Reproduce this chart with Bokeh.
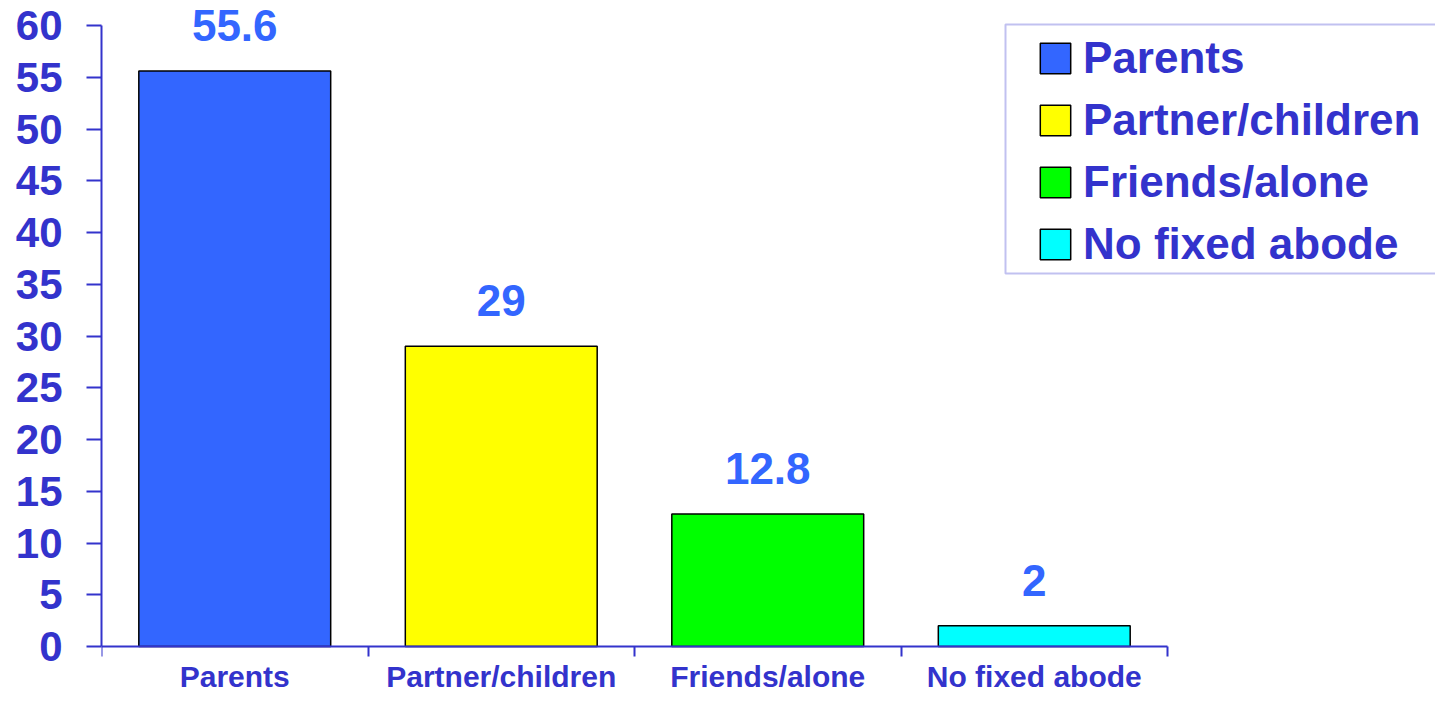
from bokeh.plotting import figure
from bokeh.models import (ColumnDataSource, LabelSet, Legend, LegendItem,
                          FixedTicker, Range1d, BoxAnnotation)
from bokeh.core.properties import value
from bokeh.embed import file_html
from bokeh.resources import INLINE

categories = ["Parents", "Partner/children", "Friends/alone", "No fixed abode"]
values = [55.6, 29, 12.8, 2]
value_labels = ["55.6", "29", "12.8", "2"]
colors = ["#3366ff", "#ffff00", "#00ff00", "#00ffff"]
y_ticks = [0, 5, 10, 15, 20, 25, 30, 35, 40, 45, 50, 55, 60]
y_max = 60

FONT = "Liberation Sans"
AXIS_COLOR = "#3333cc"

# layout (pixels)
W, H = 1435, 691
LEFT = 101          # y axis position
AXIS_Y = 646        # pixel row of value 0
TOP_Y = 25          # pixel row of value 60
CAT_W = 266.5       # pixel width of one category slot

n = len(categories)
px_per_unit = (AXIS_Y - TOP_Y) / y_max
y_start = -(H - AXIS_Y) / px_per_unit
y_end = y_max + TOP_Y / px_per_unit
x_end = (W - LEFT) / CAT_W


def px_to_x(px):
    return (px - LEFT) / CAT_W


def px_to_y(py):
    return (AXIS_Y - py) / px_per_unit


xs = [i + 0.5 for i in range(n)]
src = ColumnDataSource(dict(x=xs, value=values, cat=categories,
                            color=colors, label=value_labels))

p = figure(width=W, height=H, output_backend="svg", toolbar_location=None,
           x_range=Range1d(0, x_end), y_range=Range1d(y_start, y_end),
           min_border_left=LEFT, min_border_right=0, min_border_top=0,
           min_border_bottom=0)
p.outline_line_color = None
p.xgrid.visible = False
p.ygrid.visible = False

r = p.vbar(x="x", top="value", bottom=0, width=0.72, fill_color="color",
           line_color="black", line_width=1.5, source=src)

# value labels
labels = LabelSet(x="x", y="value", text="label", source=src,
                  text_align="center", text_baseline="bottom", y_offset=30,
                  text_font=value(FONT), text_font_style="bold",
                  text_font_size="44px", text_color="#3366ff")
p.add_layout(labels)

# x axis at value 0: labels at centres, ticks at category boundaries
xa = p.xaxis[0]
xa.fixed_location = 0
xa.bounds = (0, n)
xa.ticker = FixedTicker(ticks=xs, minor_ticks=list(range(n + 1)))
xa.major_label_overrides = {x: c for x, c in zip(xs, categories)}
xa.major_tick_in = 0
xa.major_tick_out = 0
xa.minor_tick_in = 0
xa.minor_tick_out = 10
xa.minor_tick_line_color = AXIS_COLOR
xa.minor_tick_line_width = 2
xa.axis_line_color = AXIS_COLOR
xa.axis_line_width = 2
xa.major_label_standoff = 3
xa.major_label_text_font = FONT
xa.major_label_text_font_style = "bold"
xa.major_label_text_font_size = "30px"
xa.major_label_text_color = AXIS_COLOR

ya = p.yaxis[0]
ya.bounds = (0, y_max)
ya.ticker = FixedTicker(ticks=y_ticks)
ya.major_tick_in = 0
ya.major_tick_out = 15
ya.major_tick_line_color = AXIS_COLOR
ya.major_tick_line_width = 2
ya.minor_tick_line_color = None
ya.axis_line_color = AXIS_COLOR
ya.axis_line_width = 2
ya.major_label_standoff = 24
ya.major_label_text_font = FONT
ya.major_label_text_font_style = "bold"
ya.major_label_text_font_size = "42px"
ya.major_label_text_color = AXIS_COLOR

# legend frame
box = BoxAnnotation(left=px_to_x(1005), right=px_to_x(1470),
                    top=px_to_y(24), bottom=px_to_y(273),
                    fill_color=None, line_color=AXIS_COLOR, line_width=2)
p.add_layout(box)

items = [LegendItem(label=c, renderers=[r], index=i) for i, c in enumerate(categories)]
legend = Legend(items=items, location=(1036 - LEFT, H - 269), orientation="vertical",
                label_text_font=FONT, label_text_font_style="bold",
                label_text_font_size="44px", label_text_color=AXIS_COLOR,
                glyph_width=38, glyph_height=38, label_standoff=9,
                padding=0, spacing=12, margin=0,
                border_line_color=None, background_fill_alpha=0)
p.add_layout(legend)

open("out.html", "w").write(file_html(p, INLINE))
